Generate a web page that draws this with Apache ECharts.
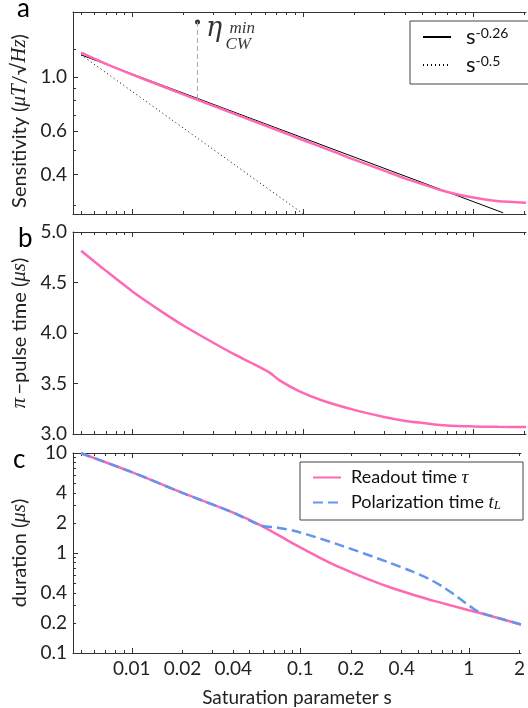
<!DOCTYPE html>
<html>
<head>
<meta charset="utf-8">
<script src="https://cdn.jsdelivr.net/npm/echarts@6/dist/echarts.min.js"></script>
<style>
  html, body { margin: 0; padding: 0; background: #fff; }
  #chart { width: 528px; height: 708px; }
</style>
</head>
<body>
<div id="chart"></div>
<script>
// Saturation parameter range shared by all three panels
const sMin = 0.00448;
const sMax = 2.04;
const sMajorTicks = [0.01, 0.1, 1];
const sMinorTicks = [0.005, 0.006, 0.007, 0.008, 0.009,
  0.02, 0.03, 0.04, 0.05, 0.06, 0.07, 0.08, 0.09,
  0.2, 0.3, 0.4, 0.5, 0.6, 0.7, 0.8, 0.9, 2];
const sTickLabels = [0.01, 0.02, 0.04, 0.1, 0.2, 0.4, 1, 2];

// (a) sensitivity
const sensS = [0.005, 0.007, 0.01, 0.015, 0.0241, 0.035, 0.05, 0.07, 0.1, 0.15, 0.2, 0.3, 0.4, 0.5, 0.65, 0.8, 1, 1.37, 2.04];
const sensVal = [1.257, 1.131, 1.022, 0.916, 0.806, 0.731, 0.665, 0.609, 0.553, 0.497, 0.460, 0.415, 0.385, 0.366, 0.345, 0.332, 0.322, 0.312, 0.307];
const fit026S = [0.005, 1.5];
const fit026Val = [1.23, 0.279];
const fit05S = [0.005, 0.1];
const fit05Val = [1.23, 0.277];
const etaMinS = 0.0241;
const etaMinVal = 1.677;
const etaCurveVal = 0.806;
const sensMajorTicks = [0.4, 0.6, 1.0];
const sensMinorTicks = [0.3, 0.5, 0.7, 0.8, 0.9, 1.3];

// (b) pi-pulse time
const piS = [0.005, 0.007, 0.01, 0.015, 0.02, 0.03, 0.04, 0.05, 0.0635, 0.073, 0.0956, 0.13, 0.2, 0.3, 0.4, 0.508, 0.7, 1, 1.4, 2.04];
const piVal = [4.815, 4.615, 4.412, 4.207, 4.072, 3.901, 3.785, 3.703, 3.610, 3.531, 3.422, 3.332, 3.239, 3.168, 3.129, 3.109, 3.085, 3.075, 3.071, 3.069];

// (c) readout and polarization durations
const tauS = [0.005, 0.01, 0.02, 0.04, 0.0582, 0.0835, 0.0956, 0.13, 0.172, 0.25, 0.354, 0.5, 0.637, 0.8, 1.0, 1.25, 2.04];
const tauVal = [9.95, 6.44, 3.99, 2.53, 1.89, 1.345, 1.184, 0.901, 0.718, 0.552, 0.444, 0.369, 0.328, 0.296, 0.268, 0.243, 0.193];
const polS = [0.005, 0.01, 0.02, 0.04, 0.0582, 0.0737, 0.0956, 0.172, 0.338, 0.45, 0.582, 0.7, 0.835, 0.96, 1.14, 1.5, 2.04];
const polVal = [9.95, 6.44, 3.99, 2.53, 1.89, 1.79, 1.64, 1.20, 0.80, 0.665, 0.55, 0.46, 0.375, 0.315, 0.259, 0.224, 0.193];
const durMajorTicks = [0.1, 1, 10];
const durMinorTicks = [0.2, 0.3, 0.4, 0.5, 0.6, 0.7, 0.8, 0.9, 2, 3, 4, 5, 6, 7, 8, 9];
const durTickLabels = [0.1, 0.2, 0.4, 1, 2, 4, 10];

const FONT = 'Lato';
const MATH = 'Liberation Serif';
const AXIS = '#333';
const PINK = '#ff69b4';
const BLUE = '#6495ed';

const zip = (xs, ys) => xs.map((x, i) => [x, ys[i]]);
const fmt = v => String(Number(Number(v).toPrecision(3)));

const grids = [
  { left: 73, right: 2, top: 12, height: 202 },
  { left: 73, right: 2, top: 232, height: 202 },
  { left: 73, right: 2, top: 453, height: 202 }
];

function sAxis(g, pos, ticks, len, line, labels) {
  return {
    type: 'log', gridIndex: g, position: pos, min: sMin, max: sMax,
    axisLine: { show: line, lineStyle: { color: AXIS, width: 1 } },
    axisTick: { show: true, inside: true, length: len, customValues: ticks,
      lineStyle: { color: AXIS, width: 1 } },
    axisLabel: labels ? { show: true, customValues: labels, formatter: fmt,
      color: '#222', fontFamily: FONT, fontSize: 19, margin: 6 } : { show: false },
    splitLine: { show: false }
  };
}

const xAxes = [];
for (let g = 0; g < 3; g++) {
  const last = g === 2;
  const major = sAxis(g, 'bottom', sMajorTicks, 5, true, last ? sTickLabels : null);
  if (last) {
    major.name = 'Saturation parameter s';
    major.nameLocation = 'middle';
    major.nameGap = 35;
    major.nameTextStyle = { color: '#222', fontFamily: FONT, fontSize: 19 };
  }
  xAxes.push(major);
  xAxes.push(sAxis(g, 'bottom', sMinorTicks, 3, false, null));
  xAxes.push(sAxis(g, 'top', sMajorTicks, 5, true, null));
  xAxes.push(sAxis(g, 'top', sMinorTicks, 3, false, null));
}

function yAxisPair(g, base) {
  const major = Object.assign({
    gridIndex: g, position: 'left',
    axisLine: { show: true, lineStyle: { color: AXIS, width: 1 } },
    axisTick: { show: true, inside: true, length: 5, lineStyle: { color: AXIS, width: 1 } },
    axisLabel: { show: true, color: '#222', fontFamily: FONT, fontSize: 19, margin: 6 },
    splitLine: { show: false },
    nameLocation: 'middle', nameRotate: 90
  }, base.major);
  const minor = Object.assign({
    gridIndex: g, position: 'left',
    axisLine: { show: false },
    axisTick: { show: true, inside: true, length: 3, lineStyle: { color: AXIS, width: 1 } },
    axisLabel: { show: false },
    splitLine: { show: false }
  }, base.minor);
  return [major, minor];
}

const nameRich = {
  t: { fontFamily: FONT, fontSize: 20, color: '#222' },
  m: { fontFamily: MATH, fontStyle: 'italic', fontSize: 21, color: '#222' }
};

const yAxes = [].concat(
  yAxisPair(0, {
    major: {
      type: 'log', min: 0.276, max: 1.84,
      axisTick: { show: true, inside: true, length: 5, customValues: sensMajorTicks,
        lineStyle: { color: AXIS, width: 1 } },
      axisLabel: { show: true, customValues: sensMajorTicks, formatter: v => Number(v).toFixed(1),
        color: '#222', fontFamily: FONT, fontSize: 19, margin: 6 },
      name: '{t|Sensitivity (}{m|μT}{t|/√}{m|Hz}{t|)}',
      nameGap: 40,
      nameTextStyle: { padding: [0, 16, 0, 0], rich: nameRich }
    },
    minor: {
      type: 'log', min: 0.276, max: 1.84,
      axisTick: { show: true, inside: true, length: 3, customValues: sensMinorTicks,
        lineStyle: { color: AXIS, width: 1 } }
    }
  }),
  yAxisPair(1, {
    major: {
      type: 'value', min: 3, max: 5, interval: 0.5,
      axisLabel: { show: true, formatter: v => Number(v).toFixed(1),
        color: '#222', fontFamily: FONT, fontSize: 19, margin: 6 },
      name: '{m|π} {t|−pulse time (}{m|μs}{t|)}',
      nameGap: 40,
      nameTextStyle: { rich: nameRich }
    },
    minor: { type: 'value', min: 3, max: 5, interval: 0.5, axisTick: { show: false } }
  }),
  yAxisPair(2, {
    major: {
      type: 'log', min: 0.1, max: 10,
      axisTick: { show: true, inside: true, length: 5, customValues: durMajorTicks,
        lineStyle: { color: AXIS, width: 1 } },
      axisLabel: { show: true, customValues: durTickLabels, formatter: fmt,
        color: '#222', fontFamily: FONT, fontSize: 19, margin: 6 },
      name: '{t|duration (}{m|μs}{t|)}',
      nameGap: 41,
      nameTextStyle: { rich: nameRich }
    },
    minor: {
      type: 'log', min: 0.1, max: 10,
      axisTick: { show: true, inside: true, length: 3, customValues: durMinorTicks,
        lineStyle: { color: AXIS, width: 1 } }
    }
  })
);

const lineBase = { type: 'line', symbol: 'none', smooth: 0.3, silent: true, clip: true };
const mathLabel = (text, size, pos, family) => ({
  show: true, position: pos, formatter: text,
  fontFamily: family || MATH, fontStyle: 'italic', fontSize: size, color: '#000'
});

const series = [
  Object.assign({}, lineBase, {
    name: 's-0.26', xAxisIndex: 0, yAxisIndex: 0, smooth: false,
    data: zip(fit026S, fit026Val),
    lineStyle: { color: '#000', width: 1 }, itemStyle: { color: '#000' }
  }),
  Object.assign({}, lineBase, {
    name: 's-0.5', xAxisIndex: 0, yAxisIndex: 0, smooth: false,
    data: zip(fit05S, fit05Val),
    lineStyle: { color: '#000', width: 1, type: [1, 3] }, itemStyle: { color: '#000' }
  }),
  Object.assign({}, lineBase, {
    name: 'sensitivity', xAxisIndex: 0, yAxisIndex: 0,
    data: zip(sensS, sensVal),
    lineStyle: { color: PINK, width: 2.5 }, itemStyle: { color: PINK }
  }),
  Object.assign({}, lineBase, {
    name: 'eta-guide', xAxisIndex: 0, yAxisIndex: 0, smooth: false,
    data: [[etaMinS, etaMinVal], [etaMinS, etaCurveVal]],
    lineStyle: { color: '#aaa', width: 1, type: [5, 3] }
  }),
  {
    type: 'scatter', name: 'eta-min', xAxisIndex: 0, yAxisIndex: 0, silent: true,
    symbolSize: 5, itemStyle: { color: '#000' },
    data: [
      { value: [etaMinS, etaMinVal], label: mathLabel('η', 27, [11, -4], 'DejaVu Serif') },
      { value: [etaMinS, etaMinVal], symbolSize: 0, label: mathLabel('CW', 17, [28, 14]) },
      { value: [etaMinS, etaMinVal], symbolSize: 0, label: mathLabel('min', 17, [32, -2]) }
    ]
  },
  Object.assign({}, lineBase, {
    name: 'pi', xAxisIndex: 4, yAxisIndex: 2,
    data: zip(piS, piVal),
    lineStyle: { color: PINK, width: 2.5 }, itemStyle: { color: PINK }
  }),
  Object.assign({}, lineBase, {
    name: 'Readout time τ', xAxisIndex: 8, yAxisIndex: 4,
    data: zip(tauS, tauVal),
    lineStyle: { color: PINK, width: 2.5 }, itemStyle: { color: PINK }
  }),
  Object.assign({}, lineBase, {
    name: 'Polarization time tL', xAxisIndex: 8, yAxisIndex: 4,
    data: zip(polS, polVal),
    lineStyle: { color: BLUE, width: 2.5, type: [10, 5] }, itemStyle: { color: BLUE }
  })
];

const legends = [
  {
    data: ['s-0.26', 's-0.5'],
    orient: 'vertical', left: 410, top: 21,
    itemWidth: 28, itemHeight: 20, itemGap: 6,
    padding: [5, 24, 8, 12],
    borderColor: '#444', borderWidth: 1,
    itemStyle: { opacity: 0 },
    formatter: n => n === 's-0.26' ? '{p|}{b|s}{u|-0.26}' : '{p|}{b|s}{u|-0.5}',
    textStyle: { rich: {
      p: { width: 10 },
      b: { fontFamily: FONT, fontSize: 22, color: '#111', lineHeight: 22 },
      u: { fontFamily: FONT, fontSize: 14, color: '#111', verticalAlign: 'top', lineHeight: 22 }
    } }
  },
  {
    data: ['Readout time τ', 'Polarization time tL'],
    orient: 'vertical', left: 300, top: 462,
    itemWidth: 28, itemHeight: 20, itemGap: 6,
    padding: [6, 22, 8, 12],
    borderColor: '#444', borderWidth: 1,
    itemStyle: { opacity: 0 },
    formatter: n => n === 'Readout time τ'
      ? '{p|}{t|Readout time }{m|τ}'
      : '{p|}{t|Polarization time }{m|t}{l|L}',
    textStyle: { rich: {
      p: { width: 5 },
      t: { fontFamily: FONT, fontSize: 18, color: '#111' },
      m: { fontFamily: MATH, fontStyle: 'italic', fontSize: 19, color: '#111' },
      l: { fontFamily: MATH, fontStyle: 'italic', fontSize: 13, color: '#111', verticalAlign: 'bottom' }
    } }
  }
];

const panelLetters = [
  { type: 'text', left: 17, top: -4, style: { text: 'a', font: '26px Lato', fill: '#000' } },
  { type: 'text', left: 18, top: 226, style: { text: 'b', font: '26px Lato', fill: '#000' } },
  { type: 'text', left: 13, top: 447, style: { text: 'c', font: '26px Lato', fill: '#000' } }
];

const chart = echarts.init(document.getElementById('chart'), null, { renderer: 'canvas' });
chart.setOption({
  animation: false,
  backgroundColor: '#fff',
  grid: grids,
  xAxis: xAxes,
  yAxis: yAxes,
  legend: legends,
  series: series,
  graphic: panelLetters
});
</script>
</body>
</html>
